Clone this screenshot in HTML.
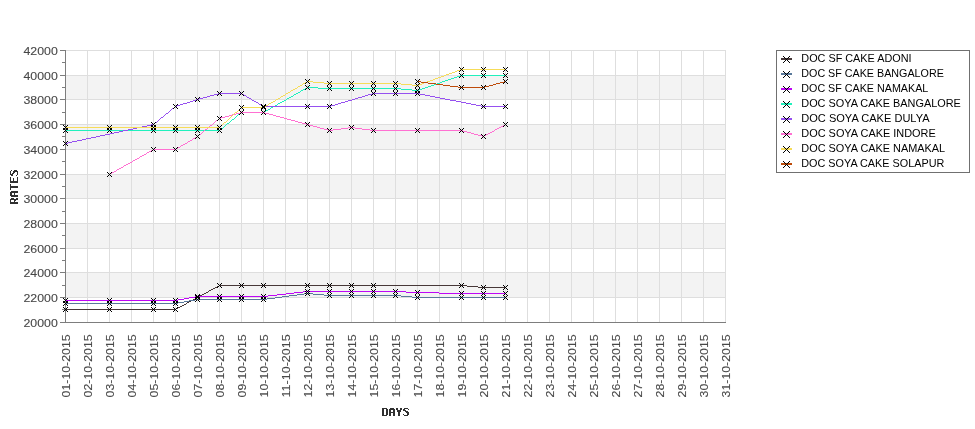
<!DOCTYPE html>
<html><head><meta charset="utf-8"><title>chart</title>
<style>
html,body{margin:0;padding:0;background:#fff;}
body{width:975px;height:429px;overflow:hidden;font-family:"Liberation Sans",sans-serif;}
svg{display:block;will-change:transform;}
text{font-family:"Liberation Sans",sans-serif;}
</style></head><body>
<svg width="975" height="429" viewBox="0 0 975 429">
<defs><path id="mk" d="M-2-2h1v1h-1zM-1-1h1v1h-1zM0 0h1v1h-1zM1 1h1v1h-1zM2 2h1v1h-1zM2-2h1v1h-1zM1-1h1v1h-1zM-1 1h1v1h-1zM-2 2h1v1h-1z"/></defs>
<defs><path id="mk7" d="M-3-3h1v1h-1zM-2-2h1v1h-1zM-1-1h1v1h-1zM0 0h1v1h-1zM1 1h1v1h-1zM2 2h1v1h-1zM3 3h1v1h-1zM3-3h1v1h-1zM2-2h1v1h-1zM1-1h1v1h-1zM-1 1h1v1h-1zM-2 2h1v1h-1zM-3 3h1v1h-1z"/></defs>
<rect x="0" y="0" width="975" height="429" fill="#ffffff"/>

<g fill="#f3f3f3" shape-rendering="crispEdges">
<rect x="66" y="272" width="660" height="25"/>
<rect x="66" y="223" width="660" height="25"/>
<rect x="66" y="174" width="660" height="24"/>
<rect x="66" y="124" width="660" height="25"/>
<rect x="66" y="75" width="660" height="24"/>
</g>
<g stroke="#dedede" stroke-width="1" shape-rendering="crispEdges">
<line x1="87.5" y1="50.0" x2="87.5" y2="322"/>
<line x1="109.5" y1="50.0" x2="109.5" y2="322"/>
<line x1="131.5" y1="50.0" x2="131.5" y2="322"/>
<line x1="153.5" y1="50.0" x2="153.5" y2="322"/>
<line x1="175.5" y1="50.0" x2="175.5" y2="322"/>
<line x1="197.5" y1="50.0" x2="197.5" y2="322"/>
<line x1="219.5" y1="50.0" x2="219.5" y2="322"/>
<line x1="241.5" y1="50.0" x2="241.5" y2="322"/>
<line x1="263.5" y1="50.0" x2="263.5" y2="322"/>
<line x1="285.5" y1="50.0" x2="285.5" y2="322"/>
<line x1="307.5" y1="50.0" x2="307.5" y2="322"/>
<line x1="329.5" y1="50.0" x2="329.5" y2="322"/>
<line x1="351.5" y1="50.0" x2="351.5" y2="322"/>
<line x1="373.5" y1="50.0" x2="373.5" y2="322"/>
<line x1="395.5" y1="50.0" x2="395.5" y2="322"/>
<line x1="417.5" y1="50.0" x2="417.5" y2="322"/>
<line x1="439.5" y1="50.0" x2="439.5" y2="322"/>
<line x1="461.5" y1="50.0" x2="461.5" y2="322"/>
<line x1="483.5" y1="50.0" x2="483.5" y2="322"/>
<line x1="505.5" y1="50.0" x2="505.5" y2="322"/>
<line x1="527.5" y1="50.0" x2="527.5" y2="322"/>
<line x1="549.5" y1="50.0" x2="549.5" y2="322"/>
<line x1="571.5" y1="50.0" x2="571.5" y2="322"/>
<line x1="593.5" y1="50.0" x2="593.5" y2="322"/>
<line x1="615.5" y1="50.0" x2="615.5" y2="322"/>
<line x1="637.5" y1="50.0" x2="637.5" y2="322"/>
<line x1="659.5" y1="50.0" x2="659.5" y2="322"/>
<line x1="681.5" y1="50.0" x2="681.5" y2="322"/>
<line x1="703.5" y1="50.0" x2="703.5" y2="322"/>
<line x1="725.5" y1="50.0" x2="725.5" y2="322"/>
<line x1="66" y1="297.5" x2="726" y2="297.5"/>
<line x1="66" y1="272.5" x2="726" y2="272.5"/>
<line x1="66" y1="248.5" x2="726" y2="248.5"/>
<line x1="66" y1="223.5" x2="726" y2="223.5"/>
<line x1="66" y1="198.5" x2="726" y2="198.5"/>
<line x1="66" y1="174.5" x2="726" y2="174.5"/>
<line x1="66" y1="149.5" x2="726" y2="149.5"/>
<line x1="66" y1="124.5" x2="726" y2="124.5"/>
<line x1="66" y1="99.5" x2="726" y2="99.5"/>
<line x1="66" y1="75.5" x2="726" y2="75.5"/>
<line x1="66" y1="50.5" x2="726" y2="50.5"/>
</g>
<g stroke="#7d7d7d" stroke-width="1" shape-rendering="crispEdges">
<line x1="65.5" y1="50" x2="65.5" y2="323"/>
<line x1="65" y1="322.5" x2="726" y2="322.5"/>
<line x1="60" y1="322.5" x2="65" y2="322.5"/>
<line x1="62" y1="309.5" x2="65" y2="309.5"/>
<line x1="60" y1="297.5" x2="65" y2="297.5"/>
<line x1="62" y1="285.5" x2="65" y2="285.5"/>
<line x1="60" y1="272.5" x2="65" y2="272.5"/>
<line x1="62" y1="260.5" x2="65" y2="260.5"/>
<line x1="60" y1="248.5" x2="65" y2="248.5"/>
<line x1="62" y1="235.5" x2="65" y2="235.5"/>
<line x1="60" y1="223.5" x2="65" y2="223.5"/>
<line x1="62" y1="211.5" x2="65" y2="211.5"/>
<line x1="60" y1="198.5" x2="65" y2="198.5"/>
<line x1="62" y1="186.5" x2="65" y2="186.5"/>
<line x1="60" y1="174.5" x2="65" y2="174.5"/>
<line x1="62" y1="161.5" x2="65" y2="161.5"/>
<line x1="60" y1="149.5" x2="65" y2="149.5"/>
<line x1="62" y1="136.5" x2="65" y2="136.5"/>
<line x1="60" y1="124.5" x2="65" y2="124.5"/>
<line x1="62" y1="112.5" x2="65" y2="112.5"/>
<line x1="60" y1="99.5" x2="65" y2="99.5"/>
<line x1="62" y1="87.5" x2="65" y2="87.5"/>
<line x1="60" y1="75.5" x2="65" y2="75.5"/>
<line x1="62" y1="62.5" x2="65" y2="62.5"/>
<line x1="60" y1="50.5" x2="65" y2="50.5"/>
</g>
<g fill="#484848" stroke="#484848" stroke-width="0.1" font-size="10.67px" text-anchor="end">
<text x="57.8" y="326.5" textLength="34.3" lengthAdjust="spacingAndGlyphs">20000</text>
<text x="57.8" y="301.5" textLength="34.3" lengthAdjust="spacingAndGlyphs">22000</text>
<text x="57.8" y="276.5" textLength="34.3" lengthAdjust="spacingAndGlyphs">24000</text>
<text x="57.8" y="252.5" textLength="34.3" lengthAdjust="spacingAndGlyphs">26000</text>
<text x="57.8" y="227.5" textLength="34.3" lengthAdjust="spacingAndGlyphs">28000</text>
<text x="57.8" y="202.5" textLength="34.3" lengthAdjust="spacingAndGlyphs">30000</text>
<text x="57.8" y="178.5" textLength="34.3" lengthAdjust="spacingAndGlyphs">32000</text>
<text x="57.8" y="153.5" textLength="34.3" lengthAdjust="spacingAndGlyphs">34000</text>
<text x="57.8" y="128.5" textLength="34.3" lengthAdjust="spacingAndGlyphs">36000</text>
<text x="57.8" y="103.5" textLength="34.3" lengthAdjust="spacingAndGlyphs">38000</text>
<text x="57.8" y="79.5" textLength="34.3" lengthAdjust="spacingAndGlyphs">40000</text>
<text x="57.8" y="54.5" textLength="34.3" lengthAdjust="spacingAndGlyphs">42000</text>
</g>
<g fill="#484848" stroke="#484848" stroke-width="0.1" font-size="10.67px" text-anchor="end">
<text transform="translate(69.9,334.4) rotate(-90)" textLength="63" lengthAdjust="spacingAndGlyphs">01-10-2015</text>
<text transform="translate(91.9,334.4) rotate(-90)" textLength="63" lengthAdjust="spacingAndGlyphs">02-10-2015</text>
<text transform="translate(113.9,334.4) rotate(-90)" textLength="63" lengthAdjust="spacingAndGlyphs">03-10-2015</text>
<text transform="translate(135.9,334.4) rotate(-90)" textLength="63" lengthAdjust="spacingAndGlyphs">04-10-2015</text>
<text transform="translate(157.9,334.4) rotate(-90)" textLength="63" lengthAdjust="spacingAndGlyphs">05-10-2015</text>
<text transform="translate(179.9,334.4) rotate(-90)" textLength="63" lengthAdjust="spacingAndGlyphs">06-10-2015</text>
<text transform="translate(201.9,334.4) rotate(-90)" textLength="63" lengthAdjust="spacingAndGlyphs">07-10-2015</text>
<text transform="translate(223.9,334.4) rotate(-90)" textLength="63" lengthAdjust="spacingAndGlyphs">08-10-2015</text>
<text transform="translate(245.9,334.4) rotate(-90)" textLength="63" lengthAdjust="spacingAndGlyphs">09-10-2015</text>
<text transform="translate(267.9,334.4) rotate(-90)" textLength="63" lengthAdjust="spacingAndGlyphs">10-10-2015</text>
<text transform="translate(289.9,334.4) rotate(-90)" textLength="63" lengthAdjust="spacingAndGlyphs">11-10-2015</text>
<text transform="translate(311.9,334.4) rotate(-90)" textLength="63" lengthAdjust="spacingAndGlyphs">12-10-2015</text>
<text transform="translate(333.9,334.4) rotate(-90)" textLength="63" lengthAdjust="spacingAndGlyphs">13-10-2015</text>
<text transform="translate(355.9,334.4) rotate(-90)" textLength="63" lengthAdjust="spacingAndGlyphs">14-10-2015</text>
<text transform="translate(377.9,334.4) rotate(-90)" textLength="63" lengthAdjust="spacingAndGlyphs">15-10-2015</text>
<text transform="translate(399.9,334.4) rotate(-90)" textLength="63" lengthAdjust="spacingAndGlyphs">16-10-2015</text>
<text transform="translate(421.9,334.4) rotate(-90)" textLength="63" lengthAdjust="spacingAndGlyphs">17-10-2015</text>
<text transform="translate(443.9,334.4) rotate(-90)" textLength="63" lengthAdjust="spacingAndGlyphs">18-10-2015</text>
<text transform="translate(465.9,334.4) rotate(-90)" textLength="63" lengthAdjust="spacingAndGlyphs">19-10-2015</text>
<text transform="translate(487.9,334.4) rotate(-90)" textLength="63" lengthAdjust="spacingAndGlyphs">20-10-2015</text>
<text transform="translate(509.9,334.4) rotate(-90)" textLength="63" lengthAdjust="spacingAndGlyphs">21-10-2015</text>
<text transform="translate(531.9,334.4) rotate(-90)" textLength="63" lengthAdjust="spacingAndGlyphs">22-10-2015</text>
<text transform="translate(553.9,334.4) rotate(-90)" textLength="63" lengthAdjust="spacingAndGlyphs">23-10-2015</text>
<text transform="translate(575.9,334.4) rotate(-90)" textLength="63" lengthAdjust="spacingAndGlyphs">24-10-2015</text>
<text transform="translate(597.9,334.4) rotate(-90)" textLength="63" lengthAdjust="spacingAndGlyphs">25-10-2015</text>
<text transform="translate(619.9,334.4) rotate(-90)" textLength="63" lengthAdjust="spacingAndGlyphs">26-10-2015</text>
<text transform="translate(641.9,334.4) rotate(-90)" textLength="63" lengthAdjust="spacingAndGlyphs">27-10-2015</text>
<text transform="translate(663.9,334.4) rotate(-90)" textLength="63" lengthAdjust="spacingAndGlyphs">28-10-2015</text>
<text transform="translate(685.9,334.4) rotate(-90)" textLength="63" lengthAdjust="spacingAndGlyphs">29-10-2015</text>
<text transform="translate(707.9,334.4) rotate(-90)" textLength="63" lengthAdjust="spacingAndGlyphs">30-10-2015</text>
<text transform="translate(729.9,334.4) rotate(-90)" textLength="63" lengthAdjust="spacingAndGlyphs">31-10-2015</text>
</g>
<g fill="#303030" shape-rendering="crispEdges" transform="translate(382,408)"><rect x="0" y="0" width="5" height="1"/><rect x="0" y="1" width="2" height="1"/><rect x="4" y="1" width="2" height="1"/><rect x="0" y="2" width="2" height="1"/><rect x="4" y="2" width="2" height="1"/><rect x="0" y="3" width="2" height="1"/><rect x="4" y="3" width="2" height="1"/><rect x="0" y="4" width="2" height="1"/><rect x="4" y="4" width="2" height="1"/><rect x="0" y="5" width="2" height="1"/><rect x="4" y="5" width="2" height="1"/><rect x="0" y="6" width="2" height="1"/><rect x="4" y="6" width="2" height="1"/><rect x="0" y="7" width="5" height="1"/><rect x="8" y="0" width="4" height="1"/><rect x="7" y="1" width="6" height="1"/><rect x="7" y="2" width="2" height="1"/><rect x="11" y="2" width="2" height="1"/><rect x="7" y="3" width="2" height="1"/><rect x="11" y="3" width="2" height="1"/><rect x="7" y="4" width="6" height="1"/><rect x="7" y="5" width="2" height="1"/><rect x="11" y="5" width="2" height="1"/><rect x="7" y="6" width="2" height="1"/><rect x="11" y="6" width="2" height="1"/><rect x="7" y="7" width="2" height="1"/><rect x="11" y="7" width="2" height="1"/><rect x="14" y="0" width="2" height="1"/><rect x="18" y="0" width="2" height="1"/><rect x="14" y="1" width="2" height="1"/><rect x="18" y="1" width="2" height="1"/><rect x="15" y="2" width="4" height="1"/><rect x="15" y="3" width="4" height="1"/><rect x="16" y="4" width="2" height="1"/><rect x="16" y="5" width="2" height="1"/><rect x="16" y="6" width="2" height="1"/><rect x="16" y="7" width="2" height="1"/><rect x="22" y="0" width="4" height="1"/><rect x="21" y="1" width="2" height="1"/><rect x="26" y="1" width="1" height="1"/><rect x="21" y="2" width="3" height="1"/><rect x="23" y="3" width="3" height="1"/><rect x="24" y="4" width="3" height="1"/><rect x="25" y="5" width="2" height="1"/><rect x="21" y="6" width="1" height="1"/><rect x="25" y="6" width="2" height="1"/><rect x="22" y="7" width="4" height="1"/></g>
<g fill="#303030" shape-rendering="crispEdges" transform="translate(10,204) rotate(-90)"><rect x="0" y="0" width="5" height="1"/><rect x="0" y="1" width="2" height="1"/><rect x="4" y="1" width="2" height="1"/><rect x="0" y="2" width="2" height="1"/><rect x="4" y="2" width="2" height="1"/><rect x="0" y="3" width="2" height="1"/><rect x="4" y="3" width="2" height="1"/><rect x="0" y="4" width="5" height="1"/><rect x="0" y="5" width="2" height="1"/><rect x="3" y="5" width="2" height="1"/><rect x="0" y="6" width="2" height="1"/><rect x="4" y="6" width="2" height="1"/><rect x="0" y="7" width="2" height="1"/><rect x="4" y="7" width="2" height="1"/><rect x="8" y="0" width="4" height="1"/><rect x="7" y="1" width="6" height="1"/><rect x="7" y="2" width="2" height="1"/><rect x="11" y="2" width="2" height="1"/><rect x="7" y="3" width="2" height="1"/><rect x="11" y="3" width="2" height="1"/><rect x="7" y="4" width="6" height="1"/><rect x="7" y="5" width="2" height="1"/><rect x="11" y="5" width="2" height="1"/><rect x="7" y="6" width="2" height="1"/><rect x="11" y="6" width="2" height="1"/><rect x="7" y="7" width="2" height="1"/><rect x="11" y="7" width="2" height="1"/><rect x="14" y="0" width="6" height="1"/><rect x="16" y="1" width="2" height="1"/><rect x="16" y="2" width="2" height="1"/><rect x="16" y="3" width="2" height="1"/><rect x="16" y="4" width="2" height="1"/><rect x="16" y="5" width="2" height="1"/><rect x="16" y="6" width="2" height="1"/><rect x="16" y="7" width="2" height="1"/><rect x="21" y="0" width="6" height="1"/><rect x="21" y="1" width="2" height="1"/><rect x="21" y="2" width="2" height="1"/><rect x="21" y="3" width="5" height="1"/><rect x="21" y="4" width="2" height="1"/><rect x="21" y="5" width="2" height="1"/><rect x="21" y="6" width="2" height="1"/><rect x="21" y="7" width="6" height="1"/><rect x="29" y="0" width="4" height="1"/><rect x="28" y="1" width="2" height="1"/><rect x="33" y="1" width="1" height="1"/><rect x="28" y="2" width="3" height="1"/><rect x="30" y="3" width="3" height="1"/><rect x="31" y="4" width="3" height="1"/><rect x="32" y="5" width="2" height="1"/><rect x="28" y="6" width="1" height="1"/><rect x="32" y="6" width="2" height="1"/><rect x="29" y="7" width="4" height="1"/></g>
<path d="M65 309h111v1h-111zM176 308h2v1h-2zM178 307h2v1h-2zM180 306h2v1h-2zM182 305h2v1h-2zM184 304h2v1h-2zM186 303h1v1h-1zM187 302h2v1h-2zM189 301h2v1h-2zM191 300h2v1h-2zM193 299h2v1h-2zM195 298h2v1h-2zM197 297h1v1h-1zM198 296h2v1h-2zM200 295h2v1h-2zM202 294h2v1h-2zM204 293h2v1h-2zM206 292h2v1h-2zM208 291h1v1h-1zM209 290h2v1h-2zM211 289h2v1h-2zM213 288h2v1h-2zM215 287h2v1h-2zM217 286h2v1h-2zM219 285h248v1h-248zM467 286h11v1h-11zM478 287h28v1h-28z" fill="#473838" shape-rendering="crispEdges"/>
<path d="M65 303h113v1h-113zM178 302h6v1h-6zM184 301h5v1h-5zM189 300h6v1h-6zM195 299h72v1h-72zM267 298h8v1h-8zM275 297h7v1h-7zM282 296h7v1h-7zM289 295h8v1h-8zM297 294h7v1h-7zM304 293h9v1h-9zM313 294h11v1h-11zM324 295h77v1h-77zM401 296h11v1h-11zM412 297h94v1h-94z" fill="#59799b" shape-rendering="crispEdges"/>
<path d="M65 300h113v1h-113zM178 299h6v1h-6zM184 298h5v1h-5zM189 297h6v1h-6zM195 296h73v1h-73zM268 295h9v1h-9zM277 294h9v1h-9zM286 293h8v1h-8zM294 292h9v1h-9zM303 291h103v1h-103zM406 292h33v1h-33zM439 293h67v1h-67z" fill="#be08f6" shape-rendering="crispEdges"/>
<path d="M65 130h155v1h-155zM220 129h1v1h-1zM221 128h2v1h-2zM223 127h1v1h-1zM224 126h1v1h-1zM225 125h1v1h-1zM226 124h1v1h-1zM227 123h2v1h-2zM229 122h1v1h-1zM230 121h1v1h-1zM231 120h1v1h-1zM232 119h2v1h-2zM234 118h1v1h-1zM235 117h1v1h-1zM236 116h1v1h-1zM237 115h1v1h-1zM238 114h2v1h-2zM240 113h1v1h-1zM241 112h23v1h-23zM264 111h2v1h-2zM266 110h2v1h-2zM268 109h2v1h-2zM270 108h1v1h-1zM271 107h2v1h-2zM273 106h2v1h-2zM275 105h2v1h-2zM277 104h1v1h-1zM278 103h2v1h-2zM280 102h2v1h-2zM282 101h2v1h-2zM284 100h2v1h-2zM286 99h1v1h-1zM287 98h2v1h-2zM289 97h2v1h-2zM291 96h2v1h-2zM293 95h1v1h-1zM294 94h2v1h-2zM296 93h2v1h-2zM298 92h2v1h-2zM300 91h1v1h-1zM301 90h2v1h-2zM303 89h2v1h-2zM305 88h2v1h-2zM307 87h11v1h-11zM318 88h83v1h-83zM401 89h11v1h-11zM412 90h7v1h-7zM419 89h3v1h-3zM422 88h3v1h-3zM425 87h3v1h-3zM428 86h3v1h-3zM431 85h3v1h-3zM434 84h3v1h-3zM437 83h3v1h-3zM440 82h2v1h-2zM442 81h3v1h-3zM445 80h3v1h-3zM448 79h3v1h-3zM451 78h3v1h-3zM454 77h3v1h-3zM457 76h3v1h-3zM460 75h46v1h-46z" fill="#20f0bc" shape-rendering="crispEdges"/>
<path d="M65 143h3v1h-3zM68 142h4v1h-4zM72 141h5v1h-5zM77 140h5v1h-5zM82 139h4v1h-4zM86 138h5v1h-5zM91 137h5v1h-5zM96 136h4v1h-4zM100 135h5v1h-5zM105 134h5v1h-5zM110 133h4v1h-4zM114 132h5v1h-5zM119 131h4v1h-4zM123 130h5v1h-5zM128 129h5v1h-5zM133 128h4v1h-4zM137 127h5v1h-5zM142 126h5v1h-5zM147 125h4v1h-4zM151 124h3v1h-3zM154 123h1v1h-1zM155 122h2v1h-2zM157 121h1v1h-1zM158 120h1v1h-1zM159 119h1v1h-1zM160 118h1v1h-1zM161 117h2v1h-2zM163 116h1v1h-1zM164 115h1v1h-1zM165 114h1v1h-1zM166 113h2v1h-2zM168 112h1v1h-1zM169 111h1v1h-1zM170 110h1v1h-1zM171 109h1v1h-1zM172 108h2v1h-2zM174 107h1v1h-1zM175 106h2v1h-2zM177 105h3v1h-3zM180 104h3v1h-3zM183 103h4v1h-4zM187 102h3v1h-3zM190 101h3v1h-3zM193 100h3v1h-3zM196 99h3v1h-3zM199 98h4v1h-4zM203 97h4v1h-4zM207 96h3v1h-3zM210 95h4v1h-4zM214 94h4v1h-4zM218 93h24v1h-24zM242 94h2v1h-2zM244 95h2v1h-2zM246 96h1v1h-1zM247 97h2v1h-2zM249 98h2v1h-2zM251 99h1v1h-1zM252 100h2v1h-2zM254 101h2v1h-2zM256 102h2v1h-2zM258 103h1v1h-1zM259 104h2v1h-2zM261 105h2v1h-2zM263 106h68v1h-68zM331 105h4v1h-4zM335 104h3v1h-3zM338 103h3v1h-3zM341 102h4v1h-4zM345 101h3v1h-3zM348 100h4v1h-4zM352 99h3v1h-3zM355 98h3v1h-3zM358 97h4v1h-4zM362 96h3v1h-3zM365 95h3v1h-3zM368 94h4v1h-4zM372 93h48v1h-48zM420 94h5v1h-5zM425 95h5v1h-5zM430 96h5v1h-5zM435 97h5v1h-5zM440 98h5v1h-5zM445 99h5v1h-5zM450 100h6v1h-6zM456 101h5v1h-5zM461 102h5v1h-5zM466 103h5v1h-5zM471 104h5v1h-5zM476 105h5v1h-5zM481 106h25v1h-25z" fill="#9650f0" shape-rendering="crispEdges"/>
<path d="M109 174h1v1h-1zM110 173h2v1h-2zM112 172h2v1h-2zM114 171h2v1h-2zM116 170h1v1h-1zM117 169h2v1h-2zM119 168h2v1h-2zM121 167h2v1h-2zM123 166h1v1h-1zM124 165h2v1h-2zM126 164h2v1h-2zM128 163h2v1h-2zM130 162h2v1h-2zM132 161h1v1h-1zM133 160h2v1h-2zM135 159h2v1h-2zM137 158h2v1h-2zM139 157h1v1h-1zM140 156h2v1h-2zM142 155h2v1h-2zM144 154h2v1h-2zM146 153h1v1h-1zM147 152h2v1h-2zM149 151h2v1h-2zM151 150h2v1h-2zM153 149h23v1h-23zM176 148h2v1h-2zM178 147h2v1h-2zM180 146h1v1h-1zM181 145h2v1h-2zM183 144h2v1h-2zM185 143h2v1h-2zM187 142h1v1h-1zM188 141h2v1h-2zM190 140h2v1h-2zM192 139h1v1h-1zM193 138h2v1h-2zM195 137h2v1h-2zM197 136h1v1h-1zM198 135h1v1h-1zM199 134h2v1h-2zM201 133h1v1h-1zM202 132h1v1h-1zM203 131h1v1h-1zM204 130h1v1h-1zM205 129h2v1h-2zM207 128h1v1h-1zM208 127h1v1h-1zM209 126h1v1h-1zM210 125h2v1h-2zM212 124h1v1h-1zM213 123h1v1h-1zM214 122h1v1h-1zM215 121h1v1h-1zM216 120h2v1h-2zM218 119h1v1h-1zM219 118h2v1h-2zM221 117h4v1h-4zM225 116h4v1h-4zM229 115h3v1h-3zM232 114h4v1h-4zM236 113h4v1h-4zM240 112h25v1h-25zM265 113h4v1h-4zM269 114h4v1h-4zM273 115h3v1h-3zM276 116h4v1h-4zM280 117h4v1h-4zM284 118h3v1h-3zM287 119h4v1h-4zM291 120h4v1h-4zM295 121h3v1h-3zM298 122h4v1h-4zM302 123h4v1h-4zM306 124h3v1h-3zM309 125h4v1h-4zM313 126h4v1h-4zM317 127h3v1h-3zM320 128h4v1h-4zM324 129h4v1h-4zM328 130h5v1h-5zM333 129h8v1h-8zM341 128h7v1h-7zM348 127h7v1h-7zM355 128h7v1h-7zM362 129h8v1h-8zM370 130h93v1h-93zM463 131h4v1h-4zM467 132h4v1h-4zM471 133h3v1h-3zM474 134h4v1h-4zM478 135h4v1h-4zM482 136h2v1h-2zM484 135h2v1h-2zM486 134h2v1h-2zM488 133h2v1h-2zM490 132h2v1h-2zM492 131h2v1h-2zM494 130h1v1h-1zM495 129h2v1h-2zM497 128h2v1h-2zM499 127h2v1h-2zM501 126h2v1h-2zM503 125h2v1h-2zM505 124h1v1h-1z" fill="#ff70d2" shape-rendering="crispEdges"/>
<path d="M65 127h155v1h-155zM220 126h1v1h-1zM221 125h1v1h-1zM222 124h1v1h-1zM223 123h1v1h-1zM224 122h2v1h-2zM226 121h1v1h-1zM227 120h1v1h-1zM228 119h1v1h-1zM229 118h1v1h-1zM230 117h1v1h-1zM231 116h1v1h-1zM232 115h1v1h-1zM233 114h1v1h-1zM234 113h1v1h-1zM235 112h2v1h-2zM237 111h1v1h-1zM238 110h1v1h-1zM239 109h1v1h-1zM240 108h1v1h-1zM241 107h23v1h-23zM264 106h2v1h-2zM266 105h2v1h-2zM268 104h1v1h-1zM269 103h2v1h-2zM271 102h2v1h-2zM273 101h2v1h-2zM275 100h1v1h-1zM276 99h2v1h-2zM278 98h2v1h-2zM280 97h1v1h-1zM281 96h2v1h-2zM283 95h2v1h-2zM285 94h1v1h-1zM286 93h2v1h-2zM288 92h2v1h-2zM290 91h1v1h-1zM291 90h2v1h-2zM293 89h2v1h-2zM295 88h2v1h-2zM297 87h1v1h-1zM298 86h2v1h-2zM300 85h2v1h-2zM302 84h1v1h-1zM303 83h2v1h-2zM305 82h2v1h-2zM307 81h6v1h-6zM313 82h11v1h-11zM324 83h77v1h-77zM401 84h11v1h-11zM412 85h7v1h-7zM419 84h3v1h-3zM422 83h2v1h-2zM424 82h3v1h-3zM427 81h3v1h-3zM430 80h3v1h-3zM433 79h2v1h-2zM435 78h3v1h-3zM438 77h3v1h-3zM441 76h3v1h-3zM444 75h2v1h-2zM446 74h3v1h-3zM449 73h3v1h-3zM452 72h3v1h-3zM455 71h2v1h-2zM457 70h3v1h-3zM460 69h46v1h-46z" fill="#f6dc58" shape-rendering="crispEdges"/>
<path d="M417 81h4v1h-4zM421 82h7v1h-7zM428 83h8v1h-8zM436 84h7v1h-7zM443 85h7v1h-7zM450 86h8v1h-8zM458 87h27v1h-27zM485 86h4v1h-4zM489 85h4v1h-4zM493 84h3v1h-3zM496 83h4v1h-4zM500 82h4v1h-4zM504 81h2v1h-2z" fill="#be4b0a" shape-rendering="crispEdges"/>
<g fill="#000" shape-rendering="crispEdges">
<use href="#mk" x="65" y="309"/>
<use href="#mk" x="109" y="309"/>
<use href="#mk" x="153" y="309"/>
<use href="#mk" x="175" y="309"/>
<use href="#mk" x="197" y="297"/>
<use href="#mk" x="219" y="285"/>
<use href="#mk" x="241" y="285"/>
<use href="#mk" x="263" y="285"/>
<use href="#mk" x="307" y="285"/>
<use href="#mk" x="329" y="285"/>
<use href="#mk" x="351" y="285"/>
<use href="#mk" x="373" y="285"/>
<use href="#mk" x="461" y="285"/>
<use href="#mk" x="483" y="287"/>
<use href="#mk" x="505" y="287"/>
<use href="#mk" x="65" y="303"/>
<use href="#mk" x="109" y="303"/>
<use href="#mk" x="153" y="303"/>
<use href="#mk" x="175" y="303"/>
<use href="#mk" x="197" y="299"/>
<use href="#mk" x="219" y="299"/>
<use href="#mk" x="241" y="299"/>
<use href="#mk" x="263" y="299"/>
<use href="#mk" x="307" y="293"/>
<use href="#mk" x="329" y="295"/>
<use href="#mk" x="351" y="295"/>
<use href="#mk" x="373" y="295"/>
<use href="#mk" x="395" y="295"/>
<use href="#mk" x="417" y="297"/>
<use href="#mk" x="461" y="297"/>
<use href="#mk" x="483" y="297"/>
<use href="#mk" x="505" y="297"/>
<use href="#mk" x="65" y="300"/>
<use href="#mk" x="109" y="300"/>
<use href="#mk" x="153" y="300"/>
<use href="#mk" x="175" y="300"/>
<use href="#mk" x="197" y="296"/>
<use href="#mk" x="219" y="296"/>
<use href="#mk" x="241" y="296"/>
<use href="#mk" x="263" y="296"/>
<use href="#mk" x="307" y="291"/>
<use href="#mk" x="329" y="291"/>
<use href="#mk" x="351" y="291"/>
<use href="#mk" x="373" y="291"/>
<use href="#mk" x="395" y="291"/>
<use href="#mk" x="417" y="292"/>
<use href="#mk" x="461" y="293"/>
<use href="#mk" x="483" y="293"/>
<use href="#mk" x="505" y="293"/>
<use href="#mk" x="65" y="130"/>
<use href="#mk" x="109" y="130"/>
<use href="#mk" x="153" y="130"/>
<use href="#mk" x="175" y="130"/>
<use href="#mk" x="197" y="130"/>
<use href="#mk" x="219" y="130"/>
<use href="#mk" x="241" y="112"/>
<use href="#mk" x="263" y="112"/>
<use href="#mk" x="307" y="87"/>
<use href="#mk" x="329" y="88"/>
<use href="#mk" x="351" y="88"/>
<use href="#mk" x="373" y="88"/>
<use href="#mk" x="395" y="88"/>
<use href="#mk" x="417" y="90"/>
<use href="#mk" x="461" y="75"/>
<use href="#mk" x="483" y="75"/>
<use href="#mk" x="505" y="75"/>
<use href="#mk" x="65" y="143"/>
<use href="#mk" x="153" y="124"/>
<use href="#mk" x="175" y="106"/>
<use href="#mk" x="197" y="99"/>
<use href="#mk" x="219" y="93"/>
<use href="#mk" x="241" y="93"/>
<use href="#mk" x="263" y="106"/>
<use href="#mk" x="307" y="106"/>
<use href="#mk" x="329" y="106"/>
<use href="#mk" x="373" y="93"/>
<use href="#mk" x="395" y="93"/>
<use href="#mk" x="417" y="93"/>
<use href="#mk" x="483" y="106"/>
<use href="#mk" x="505" y="106"/>
<use href="#mk" x="109" y="174"/>
<use href="#mk" x="153" y="149"/>
<use href="#mk" x="175" y="149"/>
<use href="#mk" x="197" y="136"/>
<use href="#mk" x="219" y="118"/>
<use href="#mk" x="241" y="112"/>
<use href="#mk" x="263" y="112"/>
<use href="#mk" x="307" y="124"/>
<use href="#mk" x="329" y="130"/>
<use href="#mk" x="351" y="127"/>
<use href="#mk" x="373" y="130"/>
<use href="#mk" x="417" y="130"/>
<use href="#mk" x="461" y="130"/>
<use href="#mk" x="483" y="136"/>
<use href="#mk" x="505" y="124"/>
<use href="#mk" x="65" y="127"/>
<use href="#mk" x="109" y="127"/>
<use href="#mk" x="153" y="127"/>
<use href="#mk" x="175" y="127"/>
<use href="#mk" x="197" y="127"/>
<use href="#mk" x="219" y="127"/>
<use href="#mk" x="241" y="107"/>
<use href="#mk" x="263" y="107"/>
<use href="#mk" x="307" y="81"/>
<use href="#mk" x="329" y="83"/>
<use href="#mk" x="351" y="83"/>
<use href="#mk" x="373" y="83"/>
<use href="#mk" x="395" y="83"/>
<use href="#mk" x="417" y="85"/>
<use href="#mk" x="461" y="69"/>
<use href="#mk" x="483" y="69"/>
<use href="#mk" x="505" y="69"/>
<use href="#mk" x="417" y="81"/>
<use href="#mk" x="461" y="87"/>
<use href="#mk" x="483" y="87"/>
<use href="#mk" x="505" y="81"/>
</g>
<rect x="776.5" y="50.5" width="193" height="122" fill="#fff" stroke="#707070" stroke-width="1" shape-rendering="crispEdges"/>
<rect x="781" y="58" width="11" height="2" fill="#473838" shape-rendering="crispEdges"/>
<use href="#mk7" x="786" y="59" fill="#000" shape-rendering="crispEdges"/>
<text x="801.3" y="61.8" font-size="10.5px" fill="#000" textLength="110.3" lengthAdjust="spacingAndGlyphs">DOC SF CAKE ADONI</text>
<rect x="781" y="73" width="11" height="2" fill="#59799b" shape-rendering="crispEdges"/>
<use href="#mk7" x="786" y="74" fill="#000" shape-rendering="crispEdges"/>
<text x="801.3" y="76.8" font-size="10.5px" fill="#000" textLength="142.5" lengthAdjust="spacingAndGlyphs">DOC SF CAKE BANGALORE</text>
<rect x="781" y="88" width="11" height="2" fill="#be08f6" shape-rendering="crispEdges"/>
<use href="#mk7" x="786" y="89" fill="#000" shape-rendering="crispEdges"/>
<text x="801.3" y="91.8" font-size="10.5px" fill="#000" textLength="127" lengthAdjust="spacingAndGlyphs">DOC SF CAKE NAMAKAL</text>
<rect x="781" y="103" width="11" height="2" fill="#20f0bc" shape-rendering="crispEdges"/>
<use href="#mk7" x="786" y="104" fill="#000" shape-rendering="crispEdges"/>
<text x="801.3" y="106.8" font-size="10.5px" fill="#000" textLength="159.5" lengthAdjust="spacingAndGlyphs">DOC SOYA CAKE BANGALORE</text>
<rect x="781" y="118" width="11" height="2" fill="#9650f0" shape-rendering="crispEdges"/>
<use href="#mk7" x="786" y="119" fill="#000" shape-rendering="crispEdges"/>
<text x="801.3" y="121.8" font-size="10.5px" fill="#000" textLength="128.3" lengthAdjust="spacingAndGlyphs">DOC SOYA CAKE DULYA</text>
<rect x="781" y="133" width="11" height="2" fill="#ff70d2" shape-rendering="crispEdges"/>
<use href="#mk7" x="786" y="134" fill="#000" shape-rendering="crispEdges"/>
<text x="801.3" y="136.8" font-size="10.5px" fill="#000" textLength="134.5" lengthAdjust="spacingAndGlyphs">DOC SOYA CAKE INDORE</text>
<rect x="781" y="148" width="11" height="2" fill="#f6dc58" shape-rendering="crispEdges"/>
<use href="#mk7" x="786" y="149" fill="#000" shape-rendering="crispEdges"/>
<text x="801.3" y="151.8" font-size="10.5px" fill="#000" textLength="143.8" lengthAdjust="spacingAndGlyphs">DOC SOYA CAKE NAMAKAL</text>
<rect x="781" y="163" width="11" height="2" fill="#be4b0a" shape-rendering="crispEdges"/>
<use href="#mk7" x="786" y="164" fill="#000" shape-rendering="crispEdges"/>
<text x="801.3" y="166.8" font-size="10.5px" fill="#000" textLength="143" lengthAdjust="spacingAndGlyphs">DOC SOYA CAKE SOLAPUR</text>
</svg></body></html>
